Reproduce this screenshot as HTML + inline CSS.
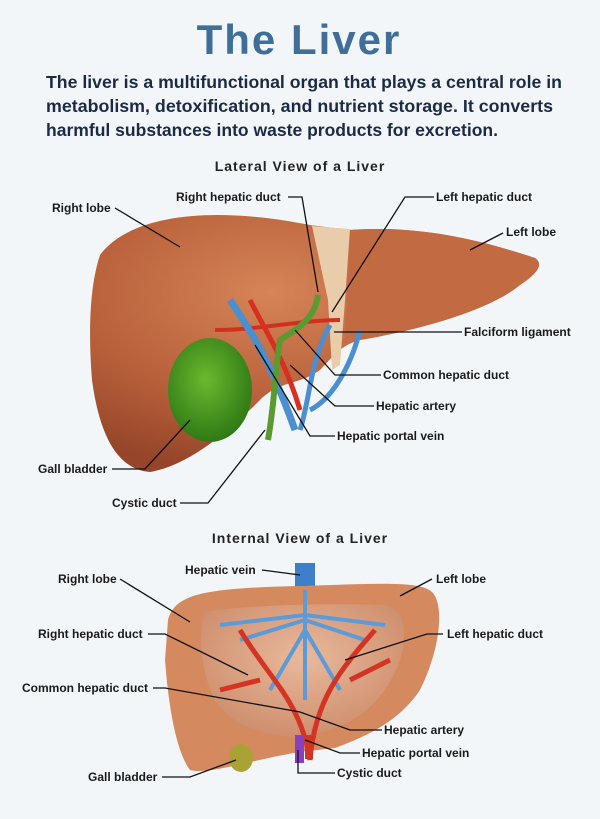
<!DOCTYPE html>
<html><head><meta charset="utf-8"><style>
body{margin:0;background:#f3f6f9;}
svg{display:block}
.t{font-family:"Liberation Sans",sans-serif;}
.l{font-family:"Liberation Sans",sans-serif;font-size:12px;font-weight:bold;fill:#1a1a1a}
.ln{stroke:#111;stroke-width:1.3;fill:none}
</style></head><body>
<svg width="600" height="819" viewBox="0 0 600 819" xmlns="http://www.w3.org/2000/svg">
<defs>
<radialGradient id="lv" cx="0.4" cy="0.3" r="0.7"><stop offset="0" stop-color="#d68458"/><stop offset="0.6" stop-color="#b8603a"/><stop offset="1" stop-color="#96452a"/></radialGradient>
<radialGradient id="gb" cx="0.45" cy="0.4" r="0.6"><stop offset="0" stop-color="#6bb82f"/><stop offset="1" stop-color="#2f7a15"/></radialGradient>
<radialGradient id="in" cx="0.5" cy="0.4" r="0.7"><stop offset="0" stop-color="#e9b99c"/><stop offset="1" stop-color="#c98765"/></radialGradient>
</defs>
<text x="299" y="54" text-anchor="middle" class="t" font-size="42" font-weight="bold" fill="#3f6f99" letter-spacing="2">The Liver</text>
<g class="t" font-size="17.5" font-weight="bold" fill="#1c2a44">
<text x="46" y="88" textLength="516" lengthAdjust="spacingAndGlyphs">The liver is a multifunctional organ that plays a central role in</text>
<text x="46" y="112" textLength="507" lengthAdjust="spacingAndGlyphs">metabolism, detoxification, and nutrient storage. It converts</text>
<text x="46" y="136" textLength="452" lengthAdjust="spacingAndGlyphs">harmful substances into waste products for excretion.</text>
</g>
<text x="300" y="171" text-anchor="middle" class="t" font-size="14" font-weight="bold" fill="#222" letter-spacing="1">Lateral View of a Liver</text>
<text x="300" y="543" text-anchor="middle" class="t" font-size="14" font-weight="bold" fill="#222" letter-spacing="1">Internal View of a Liver</text>

<path d="M100,255 C130,215 210,205 310,225 L350,230 C420,225 480,240 535,258 C545,265 535,275 520,285 C490,310 420,330 360,340 C340,345 330,360 320,370 C300,385 280,380 260,400 C230,430 190,465 150,472 C120,470 100,440 92,380 C88,330 90,285 100,255Z" fill="url(#lv)"/>
<path d="M350,230 C420,225 480,240 535,258 C545,265 535,275 520,285 C490,310 420,330 360,340 L345,330 Z" fill="#c26a42"/>
<path d="M312,226 L350,229 L345,300 L340,365 L332,370 L328,300 Z" fill="#e9ccaa"/>
<path d="M215,330 C260,330 300,320 340,320" stroke="#d03020" stroke-width="4" fill="none"/>
<path d="M230,300 C250,330 270,360 295,430" stroke="#4a8fd0" stroke-width="7" fill="none"/>
<path d="M330,325 C310,360 310,400 300,430 M360,330 C350,370 330,400 310,410" stroke="#4a8fd0" stroke-width="5" fill="none"/>
<path d="M250,300 C265,330 285,360 300,410" stroke="#d83020" stroke-width="5" fill="none"/>
<path d="M318,295 C315,320 295,330 280,340 C275,370 275,400 268,440" stroke="#5a9a30" stroke-width="6" fill="none"/>
<ellipse cx="210" cy="390" rx="42" ry="52" fill="url(#gb)"/>

<rect x="295" y="563" width="20" height="25" fill="#3d7fc8"/>
<path d="M168,620 C175,595 200,588 300,586 C370,584 420,580 432,592 C445,605 440,650 420,690 C400,720 370,735 335,748 L300,752 C250,760 210,775 190,770 C175,750 168,700 165,660 Z" fill="#d48a5e"/>
<path d="M205,612 C240,605 330,603 385,605 C405,610 408,630 400,660 C385,700 360,720 330,730 L300,738 C260,735 230,725 215,700 C200,670 198,630 205,612Z" fill="url(#in)"/>
<g stroke="#5b9bd8" stroke-width="4" fill="none">
<path d="M305,590 L305,700 M305,620 L240,640 M305,620 L365,640 M305,630 L270,690 M305,630 L340,690 M305,615 L220,625 M305,615 L385,625"/>
</g>
<g stroke="#d33525" stroke-width="5" fill="none">
<path d="M240,630 C270,680 300,700 310,760 M375,630 C340,670 315,700 310,760 M260,680 L220,690 M350,680 L390,660"/>
</g>
<rect x="295" y="735" width="9" height="28" fill="#8a3fc0"/>
<rect x="305" y="735" width="8" height="24" fill="#d03525"/>
<ellipse cx="241" cy="758" rx="12" ry="14" fill="#a9a234"/>

<g class="ln">
<path d="M115,208 L180,247"/>
<path d="M288,197 L302,197 L318,292"/>
<path d="M434,197 L405,197 L332,312"/>
<path d="M503,233 L470,250"/>
<path d="M462,332 L334,332"/>
<path d="M381,375 L335,375 L295,330"/>
<path d="M374,406 L335,406 L290,365"/>
<path d="M335,436 L310,436 L255,345"/>
<path d="M112,469 L145,469 L190,420"/>
<path d="M180,503 L208,503 L265,430"/>
<path d="M120,579 L190,622"/>
<path d="M262,570 L300,575"/>
<path d="M432,579 L400,596"/>
<path d="M148,634 L165,634 L248,675"/>
<path d="M443,634 L427,634 L345,660"/>
<path d="M153,688 L165,688 L300,712 L350,730 L382,730"/>
<path d="M360,753 L340,753 L305,740"/>
<path d="M335,773 L298,773 L298,750"/>
<path d="M162,777 L190,777 L236,760"/>
</g>
<g class="l">
<text x="52" y="212">Right lobe</text>
<text x="176" y="201">Right hepatic duct</text>
<text x="436" y="201">Left hepatic duct</text>
<text x="506" y="236">Left lobe</text>
<text x="464" y="336">Falciform ligament</text>
<text x="383" y="379">Common hepatic duct</text>
<text x="376" y="410">Hepatic artery</text>
<text x="337" y="440">Hepatic portal vein</text>
<text x="38" y="473">Gall bladder</text>
<text x="112" y="507">Cystic duct</text>
<text x="58" y="583">Right lobe</text>
<text x="185" y="574">Hepatic vein</text>
<text x="436" y="583">Left lobe</text>
<text x="38" y="638">Right hepatic duct</text>
<text x="447" y="638">Left hepatic duct</text>
<text x="22" y="692">Common hepatic duct</text>
<text x="384" y="734">Hepatic artery</text>
<text x="362" y="757">Hepatic portal vein</text>
<text x="337" y="777">Cystic duct</text>
<text x="88" y="781">Gall bladder</text>
</g>
</svg>
</body></html>
